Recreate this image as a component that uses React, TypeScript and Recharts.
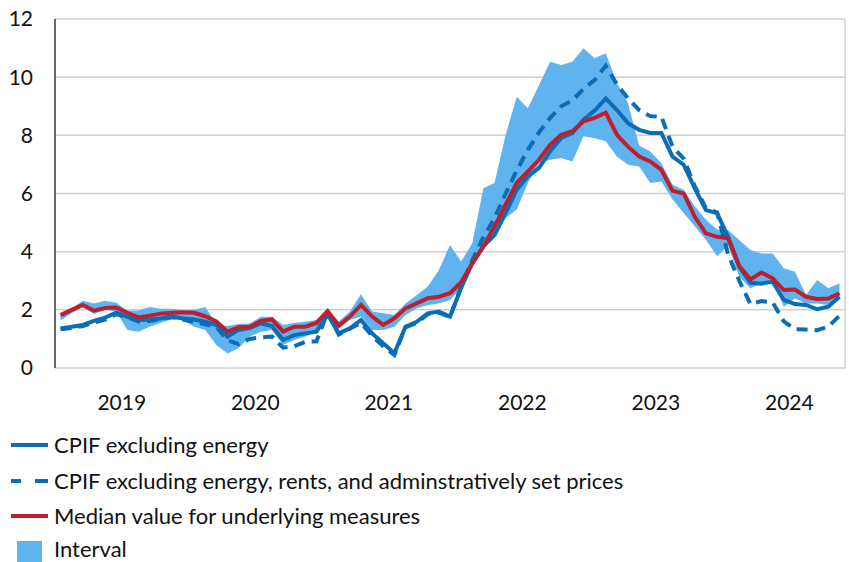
import { ComposedChart, Line, Area, XAxis, YAxis, CartesianGrid } from "recharts";

// monthly, Jan 2019 - Nov 2024, annual % change
const years = ["2019", "2020", "2021", "2022", "2023", "2024"];

const cpifExEnergy = [
  1.36, 1.42, 1.48, 1.62, 1.73, 1.9, 1.76, 1.65, 1.67, 1.7, 1.78, 1.7,
  1.67, 1.59, 1.48, 1.08, 1.31, 1.37, 1.54, 1.44, 0.96, 1.13, 1.19, 1.25,
  1.85, 1.19, 1.36, 1.65, 1.19, 0.85, 0.51, 1.42, 1.59, 1.88, 1.94, 1.77,
  2.75, 3.6, 4.18, 4.57, 5.33, 6.13, 6.59, 6.88, 7.45, 7.91, 8.08, 8.54,
  8.85, 9.27, 8.87, 8.42, 8.19, 8.08, 8.08, 7.27, 6.99, 6.18, 5.43, 5.33,
  4.5, 3.48, 2.93, 2.9, 2.97, 2.34, 2.2, 2.17, 2.02, 2.11, 2.45,
];

const cpifExEnergyRentsAdmin = [
  1.33, 1.38, 1.44, 1.57, 1.66, 1.85, 1.74, 1.6, 1.62, 1.68, 1.75, 1.67,
  1.58, 1.5, 1.42, 0.95, 0.82, 1.0, 1.05, 1.08, 0.7, 0.75, 0.9, 0.92,
  1.92, 1.15, 1.35, 1.55, 1.1, 0.75, 0.45, 1.4, 1.55, 1.85, 1.9, 1.75,
  2.8, 3.7, 4.5, 5.15, 6.0, 6.8, 7.5, 8.1, 8.6, 9.0, 9.2, 9.6,
  9.9, 10.39, 9.75, 9.27, 8.87, 8.66, 8.64, 7.61, 7.2, 6.25, 5.5, 5.35,
  3.9, 3.0, 2.2, 2.3, 2.25, 1.6, 1.33, 1.32, 1.3, 1.42, 1.8,
];

const medianUnderlying = [
  1.82, 2.0, 2.17, 1.97, 2.06, 2.08, 1.9, 1.74, 1.8, 1.87, 1.9, 1.92,
  1.9, 1.78, 1.6, 1.25, 1.4, 1.42, 1.62, 1.67, 1.25, 1.42, 1.42, 1.55,
  1.96, 1.46, 1.77, 2.17, 1.77, 1.48, 1.71, 2.05, 2.22, 2.4, 2.45, 2.57,
  2.95, 3.6, 4.18, 4.87, 5.62, 6.36, 6.76, 7.16, 7.67, 8.02, 8.14, 8.48,
  8.6, 8.78, 8.02, 7.61, 7.27, 7.1, 6.81, 6.09, 6.0, 5.2, 4.63, 4.51,
  4.46, 3.51, 3.05, 3.28, 3.08, 2.68, 2.7, 2.45, 2.37, 2.39, 2.57,
];

const intervalLow = [
  1.63, 1.88, 2.1, 1.86, 2.0, 1.94, 1.31, 1.25, 1.42, 1.56, 1.67, 1.65,
  1.42, 1.31, 0.79, 0.5, 0.68, 1.08, 1.25, 1.31, 0.79, 0.96, 1.08, 1.25,
  1.77, 1.36, 1.65, 1.77, 1.31, 1.31, 1.42, 1.82, 2.05, 2.17, 2.22, 2.34,
  2.75, 3.49, 4.18, 4.64, 5.16, 5.45, 6.36, 7.05, 7.16, 7.22, 7.1, 7.97,
  7.9, 7.8, 7.27, 6.99, 6.93, 6.36, 6.41, 5.79, 5.33, 4.87, 4.41, 3.84,
  4.2, 3.14, 2.74, 2.91, 3.03, 2.11, 2.4, 2.22, 2.22, 2.17, 2.45,
];

const intervalHigh = [
  1.88, 2.05, 2.31, 2.22, 2.31, 2.24, 1.98, 1.98, 2.1, 2.04, 2.04, 1.98,
  2.0, 2.1, 1.53, 1.44, 1.51, 1.53, 1.76, 1.76, 1.48, 1.55, 1.59, 1.65,
  1.99, 1.6, 1.94, 2.54, 1.94, 1.88, 1.82, 2.22, 2.5, 2.8, 3.37, 4.23,
  3.66, 4.29, 6.18, 6.36, 8.01, 9.33, 8.93, 9.73, 10.53, 10.42, 10.53, 10.99,
  10.65, 10.82, 9.8, 9.1, 7.65, 7.44, 7.04, 6.3, 6.13, 5.56, 5.1, 4.76,
  4.74, 4.4, 4.06, 3.94, 3.94, 3.43, 3.31, 2.51, 3.03, 2.74, 2.91,
];

const yTicks = [0, 2, 4, 6, 8, 10, 12];

const BLUE = "#0b6db3";
const RED = "#be1e2d";
const BAND = "#5fb4f0";
const FONT = "Lato, 'Open Sans', sans-serif";

const nMonths = medianUnderlying.length;
const data = medianUnderlying.map((m, i) => ({
  t: i + 0.5,
  exEnergy: cpifExEnergy[i],
  exAdmin: cpifExEnergyRentsAdmin[i],
  median: m,
  interval: [intervalLow[i], intervalHigh[i]],
}));
const yearCentres = years.map((_, k) => k * 12 + 6);
const yearEdges = years.slice(1).map((_, k) => (k + 1) * 12);

const legendItems = [
  { label: "CPIF excluding energy", kind: "solid", color: BLUE },
  { label: "CPIF excluding energy, rents, and adminstratively set prices", kind: "dashed", color: BLUE },
  { label: "Median value for underlying measures", kind: "solid", color: RED },
  { label: "Interval", kind: "box", color: BAND },
];

function LegendIcon({ kind, color }: { kind: string; color: string }) {
  if (kind === "box") {
    return (
      <svg width={48} height={26} style={{ position: "absolute", left: 0, top: 0 }}>
        <rect x={17} y={3} width={25} height={23} fill={color} />
      </svg>
    );
  }
  return (
    <svg width={48} height={22} style={{ position: "absolute", left: 0, top: 0 }}>
      {kind === "dashed" ? (
        <>
          <line x1={11} x2={21} y1={11} y2={11} stroke={color} strokeWidth={4} />
          <line x1={35} x2={48} y1={11} y2={11} stroke={color} strokeWidth={4} />
        </>
      ) : (
        <line x1={11} x2={48} y1={11} y2={11} stroke={color} strokeWidth={4} />
      )}
    </svg>
  );
}

function ChartLegend() {
  const rowTops = [434, 470, 505, 538];
  return (
    <>
      {legendItems.map((item, k) => (
        <div
          key={item.label}
          style={{ position: "absolute", left: 0, top: rowTops[k], height: 22, width: 849 }}
        >
          <LegendIcon kind={item.kind} color={item.color} />
          <span
            style={{
              position: "absolute",
              left: 54,
              top: 0,
              lineHeight: "22px",
              fontSize: 22,
              color: "#111",
              whiteSpace: "nowrap",
            }}
          >
            {item.label}
          </span>
        </div>
      ))}
    </>
  );
}

export default function App() {
  return (
    <div
      style={{
        position: "absolute",
        left: 0,
        top: 0,
        width: 849,
        height: 562,
        overflow: "hidden",
        background: "#fff",
        fontFamily: FONT,
      }}
    >
      <ComposedChart
        width={849}
        height={420}
        data={data}
        margin={{ top: 19, right: 0, left: 0, bottom: 0 }}
      >
        <CartesianGrid
          xAxisId="grid"
          yAxisId="left"
          stroke="#d0d0d0"
          strokeWidth={1.5}
        />
        <XAxis
          xAxisId="grid"
          dataKey="t"
          type="number"
          domain={[0, nMonths]}
          ticks={yearEdges}
          tick={false}
          tickLine={false}
          axisLine={false}
          height={0}
        />
        <XAxis
          xAxisId="years"
          dataKey="t"
          type="number"
          domain={[0, nMonths]}
          ticks={yearCentres}
          tickFormatter={(v: number) => years[Math.floor(v / 12)]}
          tick={{ fill: "#111", fontSize: 21 }}
          tickLine={false}
          axisLine={false}
          tickSize={0}
          tickMargin={27}
          height={52}
        />
        <YAxis
          yAxisId="left"
          domain={[0, 12]}
          ticks={yTicks}
          tick={{ fill: "#111", fontSize: 21 }}
          tickLine={false}
          axisLine={{ stroke: "#404040", strokeWidth: 1.5 }}
          tickSize={0}
          tickMargin={22}
          width={55}
        />
        <YAxis
          yAxisId="inner"
          domain={[0, 12]}
          ticks={yTicks}
          mirror
          tick={false}
          tickSize={10}
          tickLine={{ stroke: "#404040", strokeWidth: 1.5 }}
          axisLine={false}
          width={0}
        />
        <YAxis
          yAxisId="right"
          orientation="right"
          domain={[0, 12]}
          ticks={yTicks}
          tick={false}
          tickSize={4}
          tickLine={{ stroke: "#404040", strokeWidth: 1.5 }}
          axisLine={false}
          width={4}
        />
        <Area
          xAxisId="years"
          yAxisId="left"
          dataKey="interval"
          type="linear"
          fill={BAND}
          fillOpacity={1}
          stroke="none"
          isAnimationActive={false}
        />
        <Line
          xAxisId="years"
          yAxisId="left"
          dataKey="exAdmin"
          type="linear"
          stroke={BLUE}
          strokeWidth={4}
          strokeDasharray="11 7"
          dot={false}
          isAnimationActive={false}
        />
        <Line
          xAxisId="years"
          yAxisId="left"
          dataKey="exEnergy"
          type="linear"
          stroke={BLUE}
          strokeWidth={4}
          dot={false}
          isAnimationActive={false}
        />
        <Line
          xAxisId="years"
          yAxisId="left"
          dataKey="median"
          type="linear"
          stroke={RED}
          strokeWidth={4}
          dot={false}
          isAnimationActive={false}
        />
      </ComposedChart>
      <ChartLegend />
    </div>
  );
}
